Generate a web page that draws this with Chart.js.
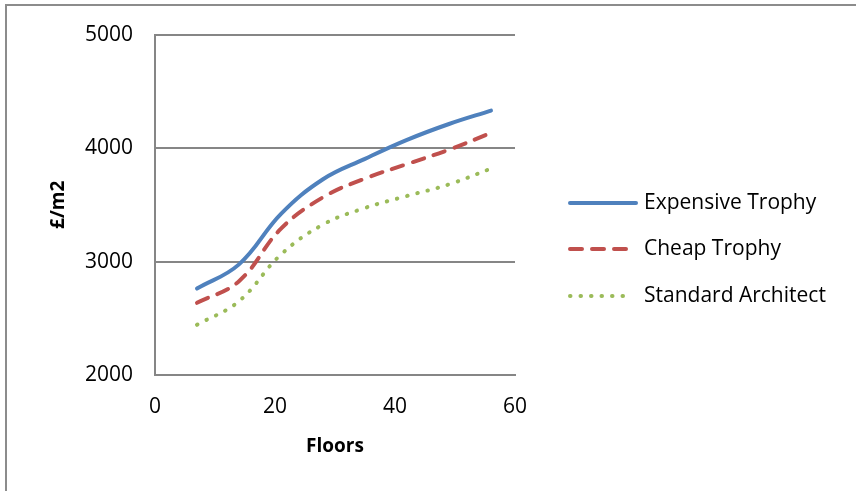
<!DOCTYPE html>
<html>
<head>
<meta charset="utf-8">
<script src="https://cdn.jsdelivr.net/npm/chart.js@4.4.1/dist/chart.umd.min.js"></script>
<style>
  html, body { margin: 0; padding: 0; background: #fff; overflow: hidden; }
  #frame {
    position: absolute; left: 5px; top: 4px; width: 900px; height: 540px;
    border-left: 2px solid #8c8c8c; border-top: 2px solid #8c8c8c;
  }
  #wrap { position: absolute; left: 0; top: 0; width: 856px; height: 491px; }
</style>
</head>
<body>
<div id="frame"></div>
<div id="wrap"><canvas id="chart" width="856" height="491"></canvas></div>
<script>
// floors vs cost per m2
const floors = [7, 14, 21, 28, 35, 42, 49, 56]
const expensiveTrophy = [2762, 2975, 3420, 3725, 3905, 4072, 4212, 4330]
const cheapTrophy = [2636, 2827, 3290, 3566, 3731, 3859, 3986, 4133]
const standardArchitect = [2442, 2651, 3062, 3326, 3472, 3578, 3680, 3819]
const xTicks = [0, 20, 40, 60]
const yTicks = [2000, 3000, 4000, 5000]

const FONT = "'Open Sans', Lato, sans-serif"

/** @type {(ys: number[]) => {x: number, y: number}[]} */
const toPoints = (ys) => floors.map((x, i) => ({x, y: ys[i]}))

// legend drawn by hand so the dash patterns look like the original
const sideLegend = {
  id: "sideLegend",
  afterDraw(chart) {
    const ctx = chart.ctx
    const rows = [203, 249, 296]
    ctx.save()
    chart.data.datasets.forEach((ds, i) => {
      const y = rows[i]
      ctx.beginPath()
      ctx.strokeStyle = ds.borderColor
      ctx.lineWidth = ds.borderWidth
      ctx.lineCap = "round"
      ctx.setLineDash(ds.borderDash || [])
      ctx.moveTo(570, y)
      ctx.lineTo(i === 0 ? 636 : 630, y)
      ctx.stroke()
      ctx.setLineDash([])
      ctx.fillStyle = "#000"
      ctx.font = "21px " + FONT
      ctx.textBaseline = "middle"
      ctx.fillText(ds.label, 644, y)
    })
    ctx.restore()
  },
}

const chart = new Chart(document.getElementById("chart").getContext("2d"), {
  type: "line",
  data: {
    datasets: [
      {
        label: "Expensive Trophy",
        data: toPoints(expensiveTrophy),
        borderColor: "#4F81BD",
        borderWidth: 4,
        borderCapStyle: "round",
      },
      {
        label: "Cheap Trophy",
        data: toPoints(cheapTrophy),
        borderColor: "#C0504D",
        borderWidth: 4,
        borderDash: [12, 10],
        borderCapStyle: "round",
      },
      {
        label: "Standard Architect",
        data: toPoints(standardArchitect),
        borderColor: "#9BBB59",
        borderWidth: 4,
        borderDash: [0.5, 10],
        borderCapStyle: "round",
      },
    ],
  },
  options: {
    animation: false,
    responsive: false,
    devicePixelRatio: 1,
    layout: {padding: {left: 0, top: 33, right: 341, bottom: 0}},
    elements: {
      point: {radius: 0},
      line: {tension: 0.4, fill: false},
    },
    plugins: {
      legend: {display: false},
      tooltip: {enabled: false},
    },
    scales: {
      x: {
        type: "linear",
        min: 0,
        max: 60,
        afterBuildTicks: (scale) => {
          scale.ticks = xTicks.map((value) => ({value}))
        },
        afterFit: (scale) => {
          scale.height = 116
        },
        grid: {display: false, drawTicks: false},
        border: {display: true, color: "#868686", width: 2},
        ticks: {color: "#000", padding: 19, font: {family: FONT, size: 21}},
        title: {
          display: true,
          text: "Floors",
          color: "#000",
          padding: {top: 0, bottom: 33},
          font: {family: FONT, size: 19, weight: "bold"},
        },
      },
      y: {
        min: 2000,
        max: 5000,
        afterBuildTicks: (scale) => {
          scale.ticks = yTicks.map((value) => ({value}))
        },
        afterFit: (scale) => {
          scale.width = 155
        },
        grid: {color: "#868686", lineWidth: 2, drawTicks: false},
        border: {display: true, color: "#868686", width: 2},
        ticks: {
          color: "#000",
          padding: 22,
          font: {family: FONT, size: 21},
          callback: (value) => String(value),
        },
        title: {
          display: true,
          text: "£/m2",
          color: "#000",
          padding: {top: 47, bottom: 0},
          font: {family: FONT, size: 19, weight: "bold"},
        },
      },
    },
  },
  plugins: [sideLegend],
})
</script>
</body>
</html>
